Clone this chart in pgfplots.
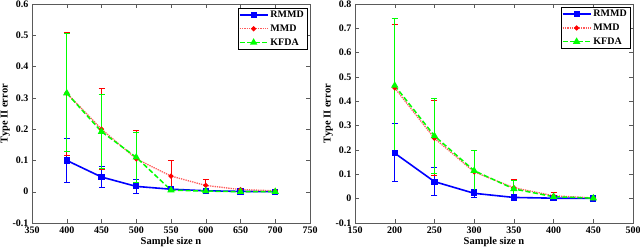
\documentclass[border=0pt]{standalone}
\usepackage{fontspec}
\setmainfont{Liberation Serif}
\usepackage{pgfplots}
\pgfplotsset{compat=1.18}
\definecolor{mblue}{RGB}{0,0,255}
\definecolor{mred}{RGB}{255,0,0}
\definecolor{mgreen}{RGB}{0,255,0}
\definecolor{mframe}{RGB}{90,90,90}
\pgfplotsset{
  myaxis/.style={
    scale only axis, width=278pt, height=219pt, anchor=south west,
    axis line style={mframe}, tick style={mframe, line width=0.4pt},
    tick align=inside, major tick length=4pt,
    ymin=-0.1, ytick distance=0.1,
    /pgf/number format/assume math mode=true,
    /pgf/number format/fixed, /pgf/number format/precision=1,
    ticklabel style={font=\fontsize{10}{12}\selectfont\bfseries},
    label style={font=\fontsize{10.5}{12}\selectfont\bfseries},
    xlabel={Sample size n}, ylabel={Type II error},
    xlabel style={yshift=3pt}, ylabel style={yshift=-4pt},
    scaled ticks=false,
    legend cell align=left,
    legend style={font=\fontsize{10}{12}\selectfont\bfseries, draw=black,
      inner sep=1pt, row sep=1.6pt, anchor=north east},
    legend image code/.code={\draw[mark repeat=2,mark phase=2,##1] plot coordinates {(0pt,0pt) (14pt,0pt) (28pt,0pt)};},
    error bars/y dir=both, error bars/y explicit,
    error bars/error mark options={rotate=90, mark size=3pt, line width=0.8pt},
  },
  rmmd/.style={mblue, line width=1.6pt, mark=square*, mark size=2.3pt, mark options={solid},
    error bars/error bar style={mblue, line width=0.8pt, solid}},
  mmd/.style={mred!65, line width=1.3pt, densely dotted, mark=*, mark size=1.8pt, mark options={solid, fill=mred, draw=mred},
    error bars/error bar style={mred, line width=0.8pt, solid},
    error bars/error mark options={rotate=90, mark size=3pt, line width=0.8pt, mred}},
  kfda/.style={mgreen, line width=1.5pt, dash pattern=on 5pt off 2.5pt, mark=triangle*, mark size=2.8pt, mark options={solid},
    error bars/error bar style={mgreen, line width=0.8pt, solid}},
}
\begin{document}
\begin{tikzpicture}
\useasboundingbox (0pt,0pt) rectangle (640pt,249pt);
\begin{axis}[myaxis, at={(32pt,26pt)}, xmin=350, xmax=750, xtick distance=50, ymax=0.6,
  legend style={at={(0.989,0.982)}}]
\addplot+[rmmd, error bars/.cd, y dir=both, y explicit] coordinates {
 (400,0.100) += (0,0.070) -= (0,0.070)
 (450,0.047) += (0,0.033) -= (0,0.034)
 (500,0.017) += (0,0.023) -= (0,0.022)
 (550,0.008) += (0,0.004) -= (0,0.004)
 (600,0.003) += (0,0.003) -= (0,0.003)
 (650,0.001) += (0,0.002) -= (0,0.002)
 (700,0.000) += (0,0.001) -= (0,0.001)
};
\addlegendentry{RMMD}
\addplot+[mmd, error bars/.cd, y dir=both, y explicit] coordinates {
 (400,0.315) += (0,0.193) -= (0,0.198)
 (450,0.200) += (0,0.130) -= (0,0.130)
 (500,0.105) += (0,0.090) -= (0,0.090)
 (550,0.050) += (0,0.050) -= (0,0.050)
 (600,0.020) += (0,0.018) -= (0,0.017)
 (650,0.007) += (0,0.004) -= (0,0.004)
 (700,0.003) += (0,0.003) -= (0,0.003)
};
\addlegendentry{MMD}
\addplot+[kfda, error bars/.cd, y dir=both, y explicit] coordinates {
 (400,0.315) += (0,0.190) -= (0,0.187)
 (450,0.192) += (0,0.118) -= (0,0.117)
 (500,0.110) += (0,0.080) -= (0,0.080)
 (550,0.005) += (0,0.004) -= (0,0.004)
 (600,0.002) += (0,0.003) -= (0,0.003)
 (650,0.000) += (0,0.001) -= (0,0.001)
 (700,0.000) += (0,0.001) -= (0,0.001)
};
\addlegendentry{KFDA}
\end{axis}
\begin{axis}[myaxis, at={(355pt,26pt)}, xmin=150, xmax=500, xtick distance=50, ymax=0.8,
  legend style={at={(0.989,0.986)}}]
\addplot+[rmmd, error bars/.cd, y dir=both, y explicit] coordinates {
 (200,0.187) += (0,0.123) -= (0,0.117)
 (250,0.070) += (0,0.058) -= (0,0.058)
 (300,0.022) += (0,0.018) -= (0,0.017)
 (350,0.005) += (0,0.005) -= (0,0.004)
 (400,0.002) += (0,0.003) -= (0,0.002)
 (450,0.001) += (0,0.002) -= (0,0.001)
};
\addlegendentry{RMMD}
\addplot+[mmd, error bars/.cd, y dir=both, y explicit] coordinates {
 (200,0.455) += (0,0.262) -= (0,0.258)
 (250,0.248) += (0,0.157) -= (0,0.153)
 (300,0.110) += (0,0.090) -= (0,0.085)
 (350,0.045) += (0,0.035) -= (0,0.035)
 (400,0.012) += (0,0.013) -= (0,0.012)
 (450,0.003) += (0,0.003) -= (0,0.003)
};
\addlegendentry{MMD}
\addplot+[kfda, error bars/.cd, y dir=both, y explicit] coordinates {
 (200,0.465) += (0,0.275) -= (0,0.270)
 (250,0.258) += (0,0.152) -= (0,0.153)
 (300,0.115) += (0,0.083) -= (0,0.080)
 (350,0.040) += (0,0.035) -= (0,0.035)
 (400,0.008) += (0,0.007) -= (0,0.007)
 (450,0.002) += (0,0.003) -= (0,0.002)
};
\addlegendentry{KFDA}
\end{axis}
\end{tikzpicture}
\end{document}
